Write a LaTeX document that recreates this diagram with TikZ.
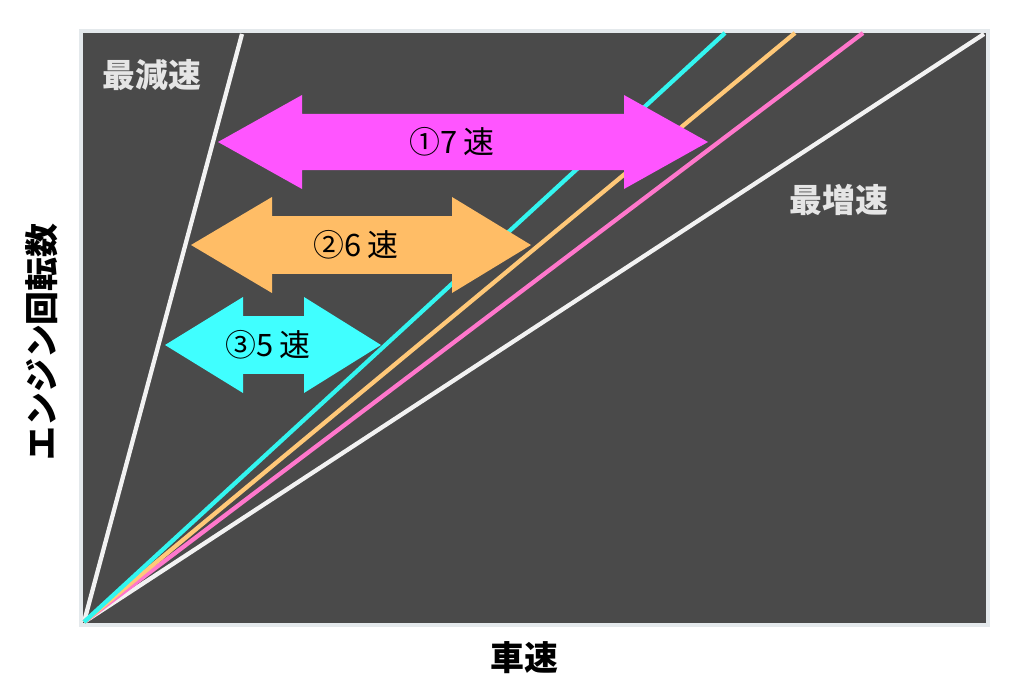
\documentclass[tikz,border=0pt]{standalone}
\usepackage{fontspec}
\setmainfont{Noto Sans CJK JP}
\newfontfamily\cjk{Noto Sans CJK JP}
\definecolor{bg}{HTML}{4A4A4A}
\definecolor{frame}{HTML}{E4E9EC}
\definecolor{magarrow}{HTML}{FF55FF}
\definecolor{orarrow}{HTML}{FFBD66}
\definecolor{cyarrow}{HTML}{40FFFF}
\definecolor{cyline}{HTML}{33F5F0}
\definecolor{orline}{HTML}{FFC878}
\definecolor{pkline}{HTML}{FF77CC}
\definecolor{whline}{HTML}{F2F2F2}
\newcommand{\myDArrow}[7]{% color, ltip, lback, rback, rtip, ycenter, headhalf
  \fill[#1] (#2,#6) -- (#3,#6-#7) -- (#3,#6-0.6*#7) -- (#4,#6-0.6*#7) -- (#4,#6-#7) -- (#5,#6)
    -- (#4,#6+#7) -- (#4,#6+0.6*#7) -- (#3,#6+0.6*#7) -- (#3,#6+#7) -- cycle;}
\tikzset{
  gearline/.style={line width=4.3pt},
  axislabel/.style={font=\cjk\fontsize{34}{34}\selectfont\bfseries, text=black},
  zonelabel/.style={font=\cjk\fontsize{33}{33}\selectfont\bfseries, text=white!90!black},
  arrowlabel/.style={font=\cjk\fontsize{31}{31}\selectfont, text=black},
}
\begin{document}
\begin{tikzpicture}[x=1bp,y=-1bp]
\useasboundingbox (0,0) rectangle (1024,699);
\fill[white] (0,0) rectangle (1024,699);
\draw[frame, line width=4pt, fill=bg] (81,31) rectangle (988,625);
\coordinate (o) at (84,622);
\coordinate (tw1) at (242,34);
\coordinate (tc) at (725,33);
\coordinate (to) at (795,33);
\coordinate (tp) at (863,33);
\coordinate (tw2) at (984,34);
\draw[gearline, whline] (o) -- (tw1);
\draw[gearline, whline] (o) -- (tw2);
\draw[gearline, pkline] (o) -- (tp);
\draw[gearline, orline] (o) -- (to);
\draw[gearline, cyline] (o) -- (tc);
\myDArrow{magarrow}{218}{302}{624}{708}{142}{47}
\myDArrow{orarrow}{191}{272}{452}{531}{245}{48}
\myDArrow{cyarrow}{165}{243}{304}{381}{345}{48}
\node[arrowlabel] (g7) at (452,142) {①7\,速};
\node[arrowlabel] (g6) at (356,245) {②6\,速};
\node[arrowlabel] (g5) at (268,345) {③5\,速};
\node[zonelabel] (low) at (152,75) {最減速};
\node[zonelabel] (high) at (839,200) {最増速};
\node[axislabel] (xl) at (524,658) {車速};
\node[axislabel, rotate=90] (yl) at (42,342) {エンジン回転数};
\end{tikzpicture}
\end{document}
